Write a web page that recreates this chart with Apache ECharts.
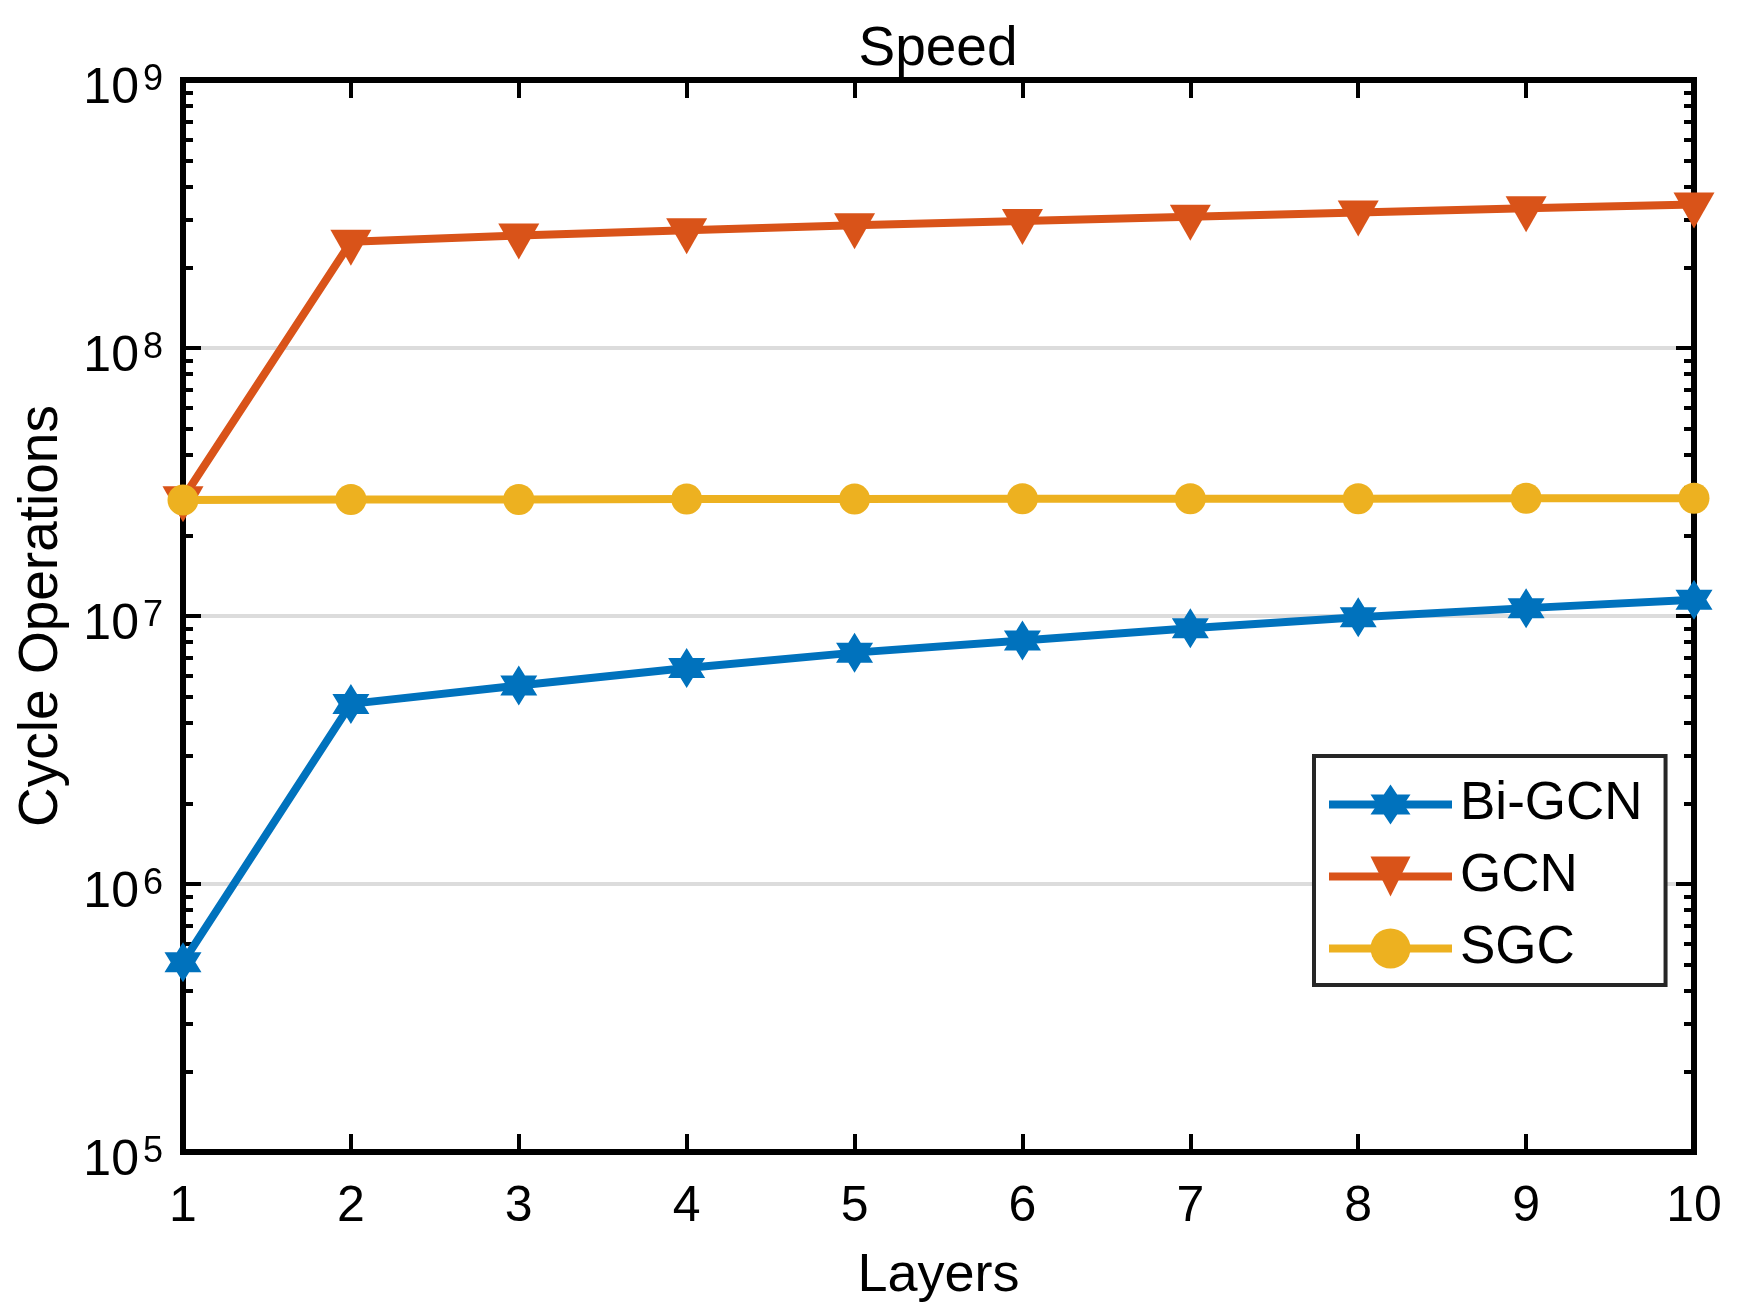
<!DOCTYPE html>
<html>
<head>
<meta charset="utf-8">
<title>Speed</title>
<script src="https://cdn.jsdelivr.net/npm/echarts@6/dist/echarts.min.js"></script>
<style>
  html, body { margin: 0; padding: 0; background: #fff; }
  #chart { width: 1750px; height: 1313px; }
</style>
</head>
<body>
<div id="chart"></div>
<script>
// x categories
var layers = ['1', '2', '3', '4', '5', '6', '7', '8', '9', '10'];
// series values
var biGcn = [5.1e5, 4.7e6, 5.5e6, 6.4e6, 7.3e6, 8.1e6, 9.0e6, 9.9e6, 1.07e7, 1.15e7];
var gcn = [2.75e7, 2.49e8, 2.63e8, 2.75e8, 2.87e8, 2.98e8, 3.09e8, 3.2e8, 3.32e8, 3.43e8];
var sgc = [2.71e7, 2.72e7, 2.72e7, 2.73e7, 2.73e7, 2.74e7, 2.74e7, 2.74e7, 2.75e7, 2.75e7];
var seriesNames = ['Bi-GCN', 'GCN', 'SGC'];
// y axis range, decades
var yMin = 1e5;
var yMax = 1e9;
var decadeFrom = 5;
var decadeTo = 9;

var FONT = 'Liberation Sans, Arial, Helvetica, sans-serif';
var colors = ['#0072BD', '#D95319', '#EDB120'];

// hexagram (matlab 'h') and down triangle (matlab 'v')
var hexagram = 'path://M0,-10L2.887,-5L8.66,-5L5.774,0L8.66,5L2.887,5L0,10L-2.887,5L-8.66,5L-5.774,0L-8.66,-5L-2.887,-5Z';
var triDown = 'path://M0,0L10,0L5,8.66Z';

// minor tick positions of the log axis, in log10 space
var minorTicks = [];
for (var k = decadeFrom; k < decadeTo; k++) {
  for (var m = 2; m <= 9; m++) {
    minorTicks.push(k + Math.log10(m));
  }
}

var axisLineStyle = { color: '#000', width: 6, cap: 'square' };
var tickStyle = { color: '#000', width: 4 };

function majorYAxis(position, withLabels) {
  return {
    type: 'log',
    logBase: 10,
    min: yMin,
    max: yMax,
    splitNumber: 4,
    position: position,
    name: withLabels ? 'Cycle Operations' : '',
    nameLocation: 'middle',
    nameGap: 114,
    nameTextStyle: { fontFamily: FONT, fontSize: 55, color: '#000' },
    axisLine: { show: true, onZero: false, lineStyle: axisLineStyle },
    axisTick: { show: true, inside: true, length: 18, lineStyle: tickStyle },
    minorTick: { show: false },
    axisLabel: {
      show: withLabels,
      margin: 20,
      formatter: function (v) {
        return '{b|10}{s|' + Math.round(Math.log10(v)) + '}';
      },
      rich: {
        b: { fontFamily: FONT, fontSize: 50, lineHeight: 50, color: '#000', padding: [19, 0, 0, 0] },
        s: { fontFamily: FONT, fontSize: 36, lineHeight: 36, color: '#000', verticalAlign: 'top', padding: [7, 0, 0, 4] }
      }
    },
    splitLine: { show: withLabels, lineStyle: { color: '#dcdcdc', width: 4 } }
  };
}

function minorYAxis(position) {
  return {
    type: 'value',
    min: decadeFrom,
    max: decadeTo,
    position: position,
    axisLine: { show: false },
    axisTick: { show: true, inside: true, length: 10, lineStyle: tickStyle, customValues: minorTicks },
    axisLabel: { show: false },
    splitLine: { show: false }
  };
}

function xAxis(position, withLabels) {
  return {
    type: 'category',
    data: layers,
    boundaryGap: false,
    position: position,
    name: withLabels ? 'Layers' : '',
    nameLocation: 'middle',
    nameGap: 97,
    nameTextStyle: { fontFamily: FONT, fontSize: 54, color: '#000' },
    axisLine: { show: true, onZero: false, lineStyle: axisLineStyle },
    axisTick: { show: true, inside: true, length: 18, lineStyle: tickStyle },
    axisLabel: { show: withLabels, fontFamily: FONT, fontSize: 50, color: '#000', margin: 30 },
    splitLine: { show: false }
  };
}

function lineSeries(idx, data, symbol, size, offset) {
  return {
    name: seriesNames[idx],
    type: 'line',
    data: data,
    xAxisIndex: 0,
    yAxisIndex: 0,
    symbol: symbol,
    symbolSize: size,
    symbolOffset: offset,
    showAllSymbol: true,
    clip: false,
    color: colors[idx],
    lineStyle: { color: colors[idx], width: 8 },
    itemStyle: { color: colors[idx], opacity: 1 },
    emphasis: { disabled: true },
    animation: false
  };
}

var chart = echarts.init(document.getElementById('chart'));
chart.setOption({
  animation: false,
  backgroundColor: '#fff',
  title: {
    text: 'Speed',
    left: 933,
    top: 17,
    textAlign: 'center',
    textStyle: { fontFamily: FONT, fontSize: 55, fontWeight: 'normal', color: '#000' }
  },
  grid: { left: 183, right: 56, top: 80, bottom: 161, containLabel: false },
  legend: {
    data: seriesNames,
    orient: 'vertical',
    left: 1314,
    top: 756,
    itemWidth: 123,
    itemHeight: 50,
    itemGap: 19,
    padding: [22, 23, 10, 11],
    borderColor: '#262626',
    borderWidth: 4,
    backgroundColor: '#fff',
    lineStyle: { width: 8 },
    textStyle: { fontFamily: FONT, fontSize: 53, color: '#000', padding: [0, 0, 0, 3] }
  },
  xAxis: [xAxis('bottom', true), xAxis('top', false)],
  yAxis: [majorYAxis('left', true), majorYAxis('right', false), minorYAxis('left'), minorYAxis('right')],
  series: [
    lineSeries(0, biGcn, hexagram, [37, 40], [0, 0]),
    lineSeries(1, gcn, triDown, [41, 36], [0, 6]),
    lineSeries(2, sgc, 'circle', 31, [0, 0])
  ]
});
</script>
</body>
</html>
